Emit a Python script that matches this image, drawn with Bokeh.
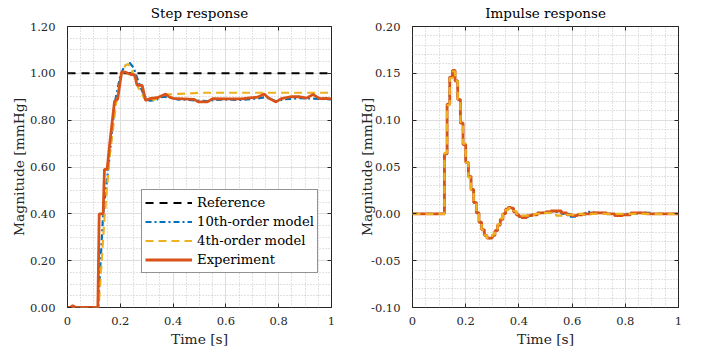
from bokeh.plotting import figure
from bokeh.layouts import row
from bokeh.models import (FixedTicker, NumeralTickFormatter, LinearAxis, Legend,
                          LegendItem, Range1d)
from bokeh.embed import file_html
from bokeh.resources import INLINE

FONT = "DejaVu Serif"
BLUE = "#0072BD"
ORANGE = "#D95319"
YELLOW = "#EDB120"

# ---------------- data ----------------
x_ticks = [0, 0.2, 0.4, 0.6, 0.8, 1.0]
x_minor = [0.05, 0.1, 0.15, 0.25, 0.3, 0.35, 0.45, 0.5, 0.55, 0.65, 0.7, 0.75,
           0.85, 0.9, 0.95]
step_y_ticks = [0, 0.2, 0.4, 0.6, 0.8, 1.0, 1.2]
step_y_minor = [0.05, 0.1, 0.15, 0.25, 0.3, 0.35, 0.45, 0.5, 0.55, 0.65, 0.7, 0.75,
                0.85, 0.9, 0.95, 1.05, 1.1, 1.15]
imp_y_ticks = [-0.1, -0.05, 0, 0.05, 0.1, 0.15, 0.2]
imp_y_minor = [-0.09, -0.08, -0.07, -0.06, -0.04, -0.03, -0.02, -0.01,
               0.01, 0.02, 0.03, 0.04, 0.06, 0.07, 0.08, 0.09,
               0.11, 0.12, 0.13, 0.14, 0.16, 0.17, 0.18, 0.19]

ref_t = [0, 1]
ref_y = [1, 1]

step_exp_t = [0, 0.01, 0.02, 0.03, 0.115, 0.12, 0.135, 0.14, 0.15, 0.16, 0.178, 0.19,
              0.205, 0.22, 0.24, 0.255, 0.263, 0.283, 0.296, 0.315, 0.34, 0.372, 0.384,
              0.40, 0.48, 0.495, 0.53, 0.55, 0.60, 0.66, 0.69, 0.72, 0.745, 0.76,
              0.79, 0.81, 0.845, 0.88, 0.905, 0.93, 0.955, 0.98, 1.0]
step_exp_y = [0, 0, 0.008, 0, 0, 0.40, 0.40, 0.59, 0.59, 0.70, 0.88, 0.89,
              1.006, 1.005, 0.995, 0.993, 0.95, 0.948, 0.884, 0.893, 0.896, 0.912, 0.90,
              0.893, 0.889, 0.878, 0.878, 0.892, 0.891, 0.891, 0.895, 0.898, 0.912, 0.896,
              0.878, 0.892, 0.90, 0.90, 0.894, 0.91, 0.892, 0.893, 0.891]

step_m10_t = [0, 0.116, 0.135, 0.157, 0.18, 0.20, 0.215, 0.235, 0.25, 0.27, 0.29,
              0.31, 0.335, 0.36, 0.38, 0.42, 0.46, 0.50, 0.53, 0.56, 0.62, 0.66,
              0.72, 0.75, 0.79, 0.82, 0.88, 0.93, 1.0]
step_m10_y = [0, 0, 0.40, 0.62, 0.88, 0.99, 1.03, 1.045, 1.025, 0.96, 0.905,
              0.883, 0.886, 0.90, 0.898, 0.888, 0.887, 0.883, 0.881, 0.887, 0.888, 0.886,
              0.893, 0.898, 0.881, 0.889, 0.894, 0.892, 0.889]

step_m4_t = [0, 0.118, 0.14, 0.16, 0.185, 0.205, 0.22, 0.23, 0.245, 0.27, 0.29,
             0.31, 0.33, 0.36, 0.385, 0.42, 0.46, 0.50, 0.60, 0.80, 1.0]
step_m4_y = [0, 0, 0.38, 0.65, 0.88, 1.0, 1.035, 1.04, 1.01, 0.935, 0.895,
             0.884, 0.888, 0.905, 0.91, 0.912, 0.914, 0.917, 0.917, 0.917, 0.917]

imp_exp_t = [0, 0.12, 0.13, 0.14, 0.15, 0.16, 0.17, 0.18, 0.19, 0.20, 0.21, 0.22,
             0.23, 0.24, 0.25, 0.26, 0.27, 0.28, 0.29, 0.30, 0.31, 0.32, 0.33, 0.34,
             0.35, 0.36, 0.37, 0.38, 0.39, 0.40, 0.41, 0.43, 0.45, 0.47, 0.50, 0.52,
             0.56, 0.58, 0.60, 0.62, 0.64, 0.67, 0.73, 0.76, 0.79, 0.82, 0.88, 1.0]
imp_exp_y = [0, 0.064, 0.117, 0.146, 0.153, 0.142, 0.122, 0.097, 0.074, 0.055, 0.040,
             0.026, 0.012, 0.001, -0.009, -0.017, -0.023, -0.026, -0.026, -0.023,
             -0.018, -0.012, -0.006, 0.0, 0.005, 0.007, 0.006, 0.002, -0.001, -0.003,
             -0.004, -0.002, -0.001, 0.001, 0.002, 0.003, 0.001, -0.001, -0.002, -0.001,
             0.0, 0.001, 0.0, -0.002, -0.001, 0.001, 0.0, 0.0]

imp_m10_t = [0, 0.12, 0.13, 0.14, 0.15, 0.16, 0.17, 0.18, 0.19, 0.20, 0.21, 0.22,
             0.23, 0.24, 0.25, 0.26, 0.27, 0.28, 0.29, 0.30, 0.31, 0.32, 0.33, 0.34,
             0.35, 0.36, 0.37, 0.38, 0.39, 0.40, 0.42, 0.44, 0.47, 0.50, 0.53, 0.56,
             0.59, 0.62, 0.65, 0.68, 0.72, 0.76, 0.80, 0.85, 0.90, 1.0]
imp_m10_y = [0, 0.064, 0.117, 0.146, 0.153, 0.142, 0.122, 0.097, 0.074, 0.055, 0.040,
             0.026, 0.012, 0.001, -0.009, -0.017, -0.023, -0.026, -0.026, -0.023,
             -0.018, -0.012, -0.006, 0.0, 0.005, 0.007, 0.006, 0.002, -0.001, -0.003,
             -0.003, -0.001, 0.001, 0.002, 0.002, 0.0, -0.003, -0.001, 0.002, 0.001,
             0.0, -0.001, 0.0, 0.001, 0.0, 0.0]

imp_m4_t = [0, 0.12, 0.13, 0.14, 0.15, 0.16, 0.17, 0.18, 0.19, 0.20, 0.21, 0.22,
            0.23, 0.24, 0.25, 0.26, 0.27, 0.28, 0.29, 0.30, 0.31, 0.32, 0.33, 0.34,
            0.35, 0.36, 0.37, 0.38, 0.39, 0.40, 0.42, 0.44, 0.46, 0.48, 0.52, 0.54,
            0.58, 0.61, 0.64, 0.67, 1.0]
imp_m4_y = [0, 0.065, 0.116, 0.145, 0.152, 0.142, 0.122, 0.098, 0.075, 0.055, 0.039,
            0.025, 0.012, 0.001, -0.009, -0.017, -0.023, -0.026, -0.025, -0.022,
            -0.017, -0.011, -0.005, 0.0, 0.004, 0.006, 0.006, 0.003, 0.0, -0.002,
            -0.002, -0.001, 0.0, 0.001, 0.001, -0.002, -0.001, 0.0, -0.001, 0.0, 0.0]


# ---------------- styling helpers ----------------
def make_fig(title, y_range, yticks, yminor, width, left, right, ylab_standoff):
    p = figure(width=width, height=353, x_range=Range1d(0, 1), y_range=Range1d(*y_range),
               output_backend="svg", toolbar_location=None,
               min_border_left=left, min_border_right=right,
               min_border_top=25, min_border_bottom=46)
    p.title.text = title
    p.title.text_font = FONT
    p.title.text_font_size = "13.5px"
    p.title.text_font_style = "normal"
    p.title.align = "center"
    p.title.text_color = "#000000"
    p.title.offset = 0
    p.title.standoff = 4

    xt = FixedTicker(ticks=x_ticks, minor_ticks=x_minor)
    yt = FixedTicker(ticks=yticks, minor_ticks=yminor)
    p.xaxis.ticker = xt
    p.yaxis.ticker = yt
    p.xaxis.formatter = NumeralTickFormatter(format="0.[0]")
    p.yaxis.formatter = NumeralTickFormatter(format="0.00")
    for ax in (p.xaxis[0], p.yaxis[0]):
        ax.major_label_text_font = FONT
        ax.major_label_text_font_size = "11.5px"
        ax.major_label_text_font_style = "normal"
        ax.major_label_text_color = "#262626"
        ax.axis_label_text_font = FONT
        ax.axis_label_text_font_size = "13.8px"
        ax.axis_label_text_font_style = "normal"
        ax.axis_label_text_color = "#262626"
        ax.axis_line_color = None
        ax.major_tick_in = 4
        ax.major_tick_out = 0
        ax.major_tick_line_color = "#262626"
        ax.minor_tick_line_color = None
    p.xaxis.axis_label = "Time [s]"
    p.yaxis.axis_label = "Magnitude [mmHg]"
    p.xaxis.major_label_standoff = 5
    p.yaxis.major_label_standoff = 8
    p.xaxis.axis_label_standoff = 3
    p.yaxis.axis_label_standoff = ylab_standoff

    for loc, tk in (("above", xt), ("right", yt)):
        ax = LinearAxis(ticker=tk, major_label_text_font_size="1px",
                        major_label_text_alpha=0,
                        axis_line_color=None, major_tick_in=4, major_tick_out=0,
                        major_tick_line_color="#262626", minor_tick_line_color=None,
                        major_label_standoff=0)
        p.add_layout(ax, loc)

    p.xgrid.grid_line_color = "#dedede"
    p.ygrid.grid_line_color = "#dedede"
    p.xgrid.minor_grid_line_color = "#c4c4c4"
    p.ygrid.minor_grid_line_color = "#c4c4c4"
    p.xgrid.minor_grid_line_dash = "1 2"
    p.ygrid.minor_grid_line_dash = "1 2"
    p.outline_line_color = "#262626"
    p.outline_line_width = 1
    p.background_fill_color = "white"
    p.border_fill_color = "white"
    return p


# ---------------- step response ----------------
p1 = make_fig("Step response", (0, 1.2), step_y_ticks, step_y_minor, 344, 67, 13, 0)
r_ref = p1.line(ref_t, ref_y, line_color="black", line_width=2, line_dash="8 6")
r_m10 = p1.line(step_m10_t, step_m10_y, line_color=BLUE, line_width=2.2,
                line_dash="6 3 2 3")
r_m4 = p1.line(step_m4_t, step_m4_y, line_color=YELLOW, line_width=2.2,
               line_dash="8 5")
r_exp = p1.line(step_exp_t, step_exp_y, line_color=ORANGE, line_width=2.8)

legend = Legend(items=[LegendItem(label="Reference", renderers=[r_ref]),
                       LegendItem(label="10th-order model", renderers=[r_m10]),
                       LegendItem(label="4th-order model", renderers=[r_m4]),
                       LegendItem(label="Experiment", renderers=[r_exp])],
                location=(74, 34))
legend.label_text_font = FONT
legend.label_text_font_size = "13.2px"
legend.label_text_font_style = "normal"
legend.label_text_color = "#000000"
legend.glyph_width = 47
legend.glyph_height = 19
legend.label_height = 19
legend.label_standoff = 5
legend.spacing = 0
legend.padding = 3
legend.margin = 0
legend.border_line_color = "#262626"
legend.border_line_width = 1
legend.background_fill_alpha = 1
p1.add_layout(legend, "center")

# ---------------- impulse response ----------------
p2 = make_fig("Impulse response", (-0.1, 0.2), imp_y_ticks, imp_y_minor, 358, 68, 24, -7)
p2.step(imp_m10_t, imp_m10_y, mode="after", line_color=BLUE, line_width=2.2,
        line_dash="6 3 2 3")
p2.step(imp_exp_t, imp_exp_y, mode="after", line_color=ORANGE, line_width=2.8)
p2.step(imp_m4_t, imp_m4_y, mode="after", line_color=YELLOW, line_width=2.2,
        line_dash="8 5")

layout = row(p1, p2, spacing=0)
open("out.html", "w").write(file_html(layout, INLINE))
